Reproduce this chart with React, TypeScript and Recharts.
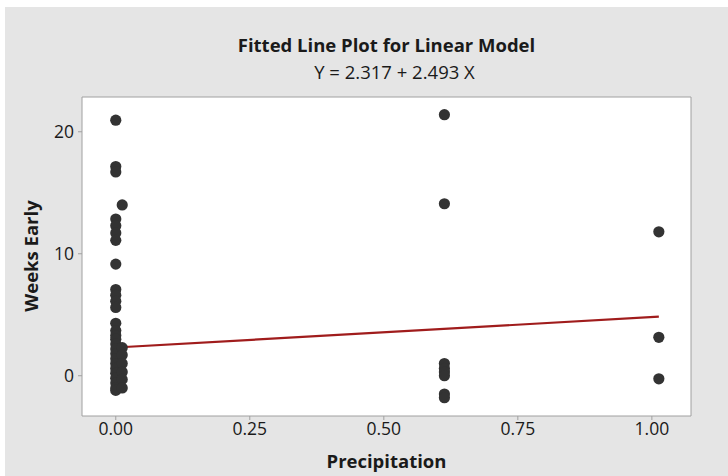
import { ScatterChart, Scatter, XAxis, YAxis, CartesianGrid, ReferenceLine } from 'recharts';

// Precipitation groups (x) and the Weeks Early values observed at each (y)
const xZero = 0;
const weeksAtZero = [20.95, 17.15, 16.7, 12.85, 12.3, 11.7, 11.1, 9.15, 7.07, 6.6, 6.1, 5.6, 4.3, 3.7, 3.3, 3.0, 2.6, 2.2, 1.8, 1.4, 1.0, 0.6, 0.2, -0.2, -0.6, -1.0, -1.2];
const xNearZero = 0.012;
const weeksAtNearZero = [14.0, 2.3, 1.7, 1.0, 0.3, -0.3, -1.0];
const xMid = 0.613;
const weeksAtMid = [21.4, 14.1, 1.0, 0.6, 0.3, 0.0, -1.5, -1.8];
const xHigh = 1.013;
const weeksAtHigh = [11.8, 3.15, -0.25];

// fitted model Y = 2.317 + 2.493 X
const intercept = 2.317;
const slope = 2.493;
const fitX = [0, 1.013];

const xTicks = [0, 0.25, 0.5, 0.75, 1];
const yTicks = [0, 10, 20];
const xDomain = [-0.063, 1.073];
const yDomain = [-3.3, 22.85];

const points = [
  ...weeksAtZero.map((y) => ({ x: xZero, y })),
  ...weeksAtNearZero.map((y) => ({ x: xNearZero, y })),
  ...weeksAtMid.map((y) => ({ x: xMid, y })),
  ...weeksAtHigh.map((y) => ({ x: xHigh, y })),
];
const fitLine = fitX.map((x) => ({ x, y: intercept + slope * x }));

const font = '"Open Sans", "Noto Sans", sans-serif';
const tickStyle = { fill: '#1a1a1a', fontSize: 17.5, fontFamily: font };
const frame = '#a0a0a0';

const Dot = (props: any) => <circle cx={props.cx} cy={props.cy} r={5.6} fill="#333333" />;
const NoDot = () => <g />;

export default function App() {
  return (
    <div style={{ position: 'absolute', left: 5, top: 7, width: 723, height: 469, background: '#e5e5e5', fontFamily: font }}>
      {/* titles are centred over the plot area, not the whole panel */}
      <div style={{ position: 'absolute', top: 27, left: 77, width: 609, textAlign: 'center', fontSize: 18.5, fontWeight: 700, color: '#1a1a1a', lineHeight: '22px' }}>
        Fitted Line Plot for Linear Model
      </div>
      <div style={{ position: 'absolute', top: 54, left: 85, width: 609, textAlign: 'center', fontSize: 18.5, color: '#1a1a1a', lineHeight: '22px' }}>
        Y = 2.317 + 2.493 X
      </div>
      <ScatterChart width={723} height={469} margin={{ top: 90, right: 37, bottom: 0, left: 0 }}>
        <CartesianGrid horizontal={false} vertical={false} fill="#ffffff" />
        <XAxis
          type="number"
          dataKey="x"
          domain={xDomain}
          ticks={xTicks}
          tickFormatter={(v: number) => v.toFixed(2)}
          allowDataOverflow
          height={60}
          tickSize={4}
          tickMargin={3}
          stroke={frame}
          tick={tickStyle}
        />
        <YAxis
          type="number"
          dataKey="y"
          domain={yDomain}
          ticks={yTicks}
          allowDataOverflow
          width={77}
          tickSize={4}
          tickMargin={4}
          stroke={frame}
          tick={tickStyle}
        />
        <ReferenceLine y={yDomain[1]} stroke={frame} ifOverflow="extendDomain" />
        <ReferenceLine x={xDomain[1]} stroke={frame} ifOverflow="extendDomain" />
        <Scatter data={fitLine} shape={NoDot} line={{ stroke: '#a01c1c', strokeWidth: 2.2 }} isAnimationActive={false} />
        <Scatter data={points} shape={Dot} isAnimationActive={false} />
      </ScatterChart>
      <div style={{ position: 'absolute', top: 442, left: 77, width: 609, textAlign: 'center', fontSize: 18.5, fontWeight: 700, color: '#1a1a1a', lineHeight: '24px' }}>
        Precipitation
      </div>
      <div style={{ position: 'absolute', left: 26 - 100, top: 249 - 12, width: 200, textAlign: 'center', fontSize: 18.5, fontWeight: 700, color: '#1a1a1a', lineHeight: '24px', transform: 'rotate(-90deg)' }}>
        Weeks Early
      </div>
    </div>
  );
}
